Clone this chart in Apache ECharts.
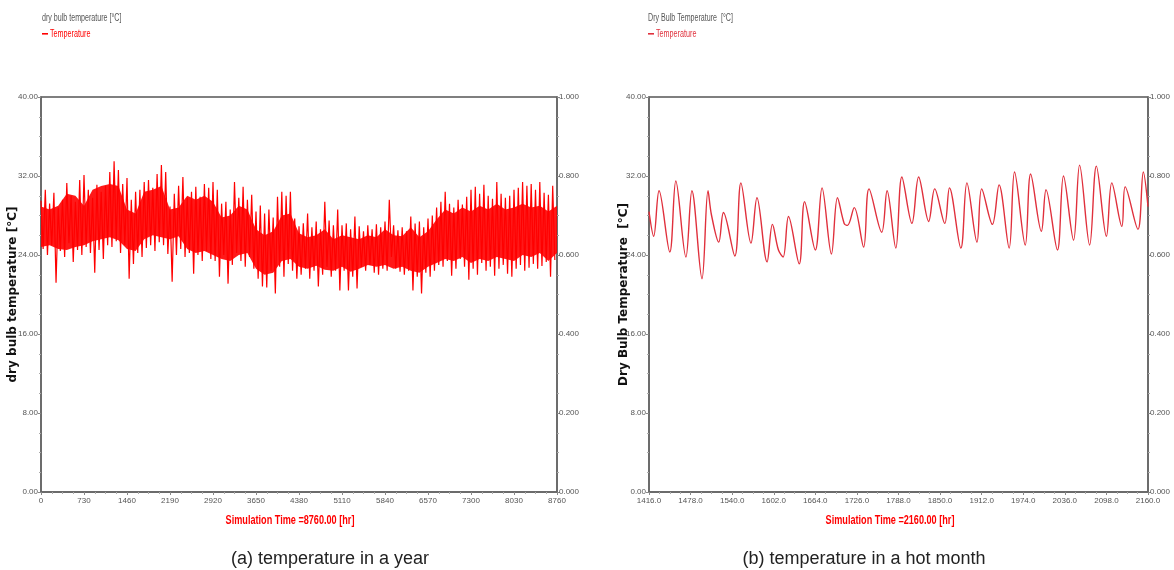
<!DOCTYPE html>
<html>
<head>
<meta charset="utf-8">
<script src="https://cdn.jsdelivr.net/npm/echarts@6/dist/echarts.min.js"></script>
<style>
  html, body { margin: 0; background: #fff; }
  #chart { width: 1174px; height: 570px; }
</style>
</head>
<body>
<div id="chart"></div>
<script>
const yearStep = 73
const yearHi = [
  29.5, 30.6, 29.2, 30.3, 28.8, 29.6, 31.3, 30.0, 29.4, 31.6,
  32.1, 30.6, 29.8, 31.1, 30.4, 31.0, 32.4, 33.5, 32.6, 31.2,
  31.8, 29.6, 30.4, 30.6, 31.4, 31.6, 30.8, 32.2, 33.1, 32.4,
  28.9, 30.2, 31.0, 31.9, 29.8, 30.4, 30.9, 29.9, 31.2, 30.8,
  31.4, 30.6, 29.2, 29.4, 28.6, 31.4, 29.8, 30.9, 29.6, 30.1,
  28.4, 29.0, 28.2, 28.6, 27.8, 29.9, 30.4, 30.0, 30.4, 27.7,
  26.9, 27.2, 28.2, 26.8, 27.4, 26.6, 29.4, 27.5, 27.0, 28.6,
  27.0, 27.2, 26.6, 27.9, 26.9, 26.4, 27.0, 26.6, 27.1, 26.8,
  27.4, 29.6, 27.0, 26.5, 26.8, 26.4, 27.9, 27.2, 27.4, 26.8,
  27.7, 28.0, 28.8, 29.4, 30.4, 29.2, 28.8, 29.6, 29.1, 29.9,
  30.6, 30.9, 30.2, 31.1, 30.0, 29.7, 31.4, 30.2, 29.8, 30.0,
  30.6, 30.8, 31.4, 31.0, 31.2, 30.6, 31.4, 30.3, 30.1, 31.0
]
const yearLo = [
  24.6, 24.0, 25.0, 21.2, 24.4, 23.8, 25.2, 23.3, 24.5, 24.0,
  24.8, 24.2, 22.2, 24.5, 23.6, 25.0, 24.8, 25.4, 24.2, 25.0,
  21.6, 23.1, 24.2, 23.8, 24.7, 25.0, 24.4, 25.3, 25.0, 24.1,
  21.3, 24.0, 24.6, 23.8, 24.2, 22.1, 24.0, 23.4, 24.4, 23.6,
  23.4, 21.8, 24.0, 21.1, 23.0, 24.2, 23.4, 22.8, 23.8, 22.6,
  21.6, 20.8, 20.7, 22.4, 20.1, 22.8, 21.8, 23.1, 22.4, 21.6,
  22.0, 22.6, 21.6, 22.4, 20.8, 22.0, 22.8, 21.8, 22.4, 20.4,
  22.4, 20.4, 21.8, 20.6, 22.8, 22.4, 23.0, 22.2, 22.0, 22.6,
  22.4, 23.8, 22.6, 22.3, 22.0, 22.4, 20.4, 21.8, 20.1, 22.2,
  21.8, 22.4, 23.0, 22.8, 23.4, 21.9, 22.6, 23.6, 22.8, 21.5,
  22.6, 22.0, 23.2, 22.4, 22.8, 21.9, 22.6, 23.0, 22.1, 21.8,
  22.6, 23.0, 22.4, 22.7, 23.1, 22.6, 22.9, 23.3, 21.8, 23.5
]
// the solid core of the year trace, every 146 hr
const coreStep = 146
const coreHi = [
  28.9, 28.6, 29.0, 30.2, 30.0, 29.0, 30.6, 31.0, 31.2, 31.0,
  28.6, 28.2, 30.4, 30.6, 31.0, 28.6, 28.8, 30.0, 29.6, 30.0,
  29.4, 27.8, 28.0, 29.0, 28.6, 26.6, 26.0, 26.4, 28.0, 28.2,
  26.2, 25.8, 26.0, 26.6, 25.6, 26.0, 25.8, 25.6, 26.0, 25.8,
  26.6, 26.0, 25.9, 26.8, 25.8, 26.4, 27.6, 28.6, 28.2, 28.8,
  28.4, 29.0, 28.6, 29.2, 28.6, 28.8, 29.2, 28.8, 29.0, 28.4,
  29.0
]
const coreLo = [
  24.8, 25.0, 24.6, 24.5, 24.8, 25.0, 25.4, 25.6, 25.8, 25.5,
  24.6, 24.4, 25.6, 26.0, 25.8, 25.6, 25.9, 24.6, 24.2, 24.4,
  24.0, 23.6, 23.4, 24.0, 24.2, 22.6, 22.0, 22.2, 23.4, 23.6,
  22.8, 22.6, 22.9, 22.5, 22.4, 22.8, 22.3, 22.6, 23.0, 22.8,
  23.0, 22.6, 22.8, 22.4, 22.2, 22.8, 23.2, 23.6, 23.4, 23.8,
  23.2, 23.6, 23.4, 23.8, 23.6, 23.4, 24.0, 23.8, 24.2, 23.4,
  24.2
]

// (b) hot month, daily turning points
const monthHours = [
  1416, 1423, 1431, 1447, 1456, 1471, 1480, 1495, 1504, 1509,
  1520, 1527, 1544, 1553, 1568, 1577, 1592, 1600, 1609, 1616,
  1624, 1640, 1648, 1664, 1674, 1688, 1697, 1707, 1712, 1722,
  1736, 1744, 1763, 1771, 1784, 1793, 1808, 1818, 1833, 1842,
  1857, 1864, 1881, 1890, 1905, 1912, 1928, 1938, 1953, 1961,
  1977, 1985, 2001, 2008, 2025, 2034, 2049, 2058, 2073, 2083,
  2098, 2106, 2121, 2126, 2145, 2153, 2160
]
const monthTemps = [
  28.4, 25.9, 30.5, 24.3, 31.5, 23.8, 30.5, 21.6, 30.5, 28.1,
  25.3, 28.3, 23.9, 31.3, 25.2, 29.8, 23.3, 27.1, 24.5, 23.8,
  27.9, 23.1, 29.4, 24.5, 30.8, 24.1, 29.8, 27.2, 27.0, 28.8,
  24.8, 30.7, 26.3, 30.5, 24.7, 31.9, 27.2, 31.9, 27.4, 30.7,
  27.2, 30.8, 24.7, 31.3, 25.3, 30.7, 27.1, 31.1, 24.7, 32.4,
  25.0, 32.2, 26.4, 30.6, 24.5, 32.0, 25.5, 33.1, 25.0, 33.0,
  25.9, 31.3, 26.9, 30.9, 26.6, 32.4, 28.9
]

const yearData = []
for (let i = 0; i < yearHi.length; i++) {
  yearData.push([i * yearStep, yearHi[i]])
  yearData.push([i * yearStep + yearStep / 2, yearLo[i]])
}
const coreData = coreHi.map((v, i) => [i * coreStep, v, coreLo[i]])
const monthData = monthHours.map((h, i) => [h, monthTemps[i]])

const sans = "'Liberation Sans', Arial, sans-serif"
const tickLabel = { color: '#555', fontSize: 8, fontFamily: sans }
const axisLine = { show: true, lineStyle: { color: '#666', width: 1.5 } }
const minorTick = { show: true, splitNumber: 4, length: 2, lineStyle: { color: '#aaa' } }
const axisTick = { show: true, length: 3, lineStyle: { color: '#888' } }

function xAxisFor(idx, min, max, interval, digits) {
  return {
    type: 'value', gridIndex: idx, min: min, max: max, interval: interval,
    axisLine: axisLine, axisTick: axisTick, minorTick: minorTick,
    splitLine: { show: false },
    axisLabel: Object.assign({ margin: 5, formatter: v => v.toFixed(digits) }, tickLabel)
  }
}
function leftAxisFor(idx, name, gap) {
  return {
    type: 'value', gridIndex: idx, min: 0, max: 40, interval: 8,
    axisLine: axisLine, axisTick: axisTick, minorTick: minorTick,
    splitLine: { show: false },
    axisLabel: Object.assign({ margin: 3, formatter: v => v.toFixed(2) }, tickLabel),
    name: name, nameLocation: 'middle', nameGap: gap, nameRotate: 90, nameMoveOverlap: false,
    nameTextStyle: { color: '#111', fontWeight: 'bold', fontSize: 12, fontFamily: "'DejaVu Sans', sans-serif" }
  }
}
function rightAxisFor(idx) {
  return {
    type: 'value', gridIndex: idx, position: 'right', min: 0, max: 1, interval: 0.2,
    axisLine: axisLine, axisTick: axisTick, minorTick: minorTick,
    splitLine: { show: false },
    axisLabel: Object.assign({ margin: 2, formatter: v => v.toFixed(3) }, tickLabel)
  }
}
// narrow text, like the simulation tool's condensed font
function narrowText(x, y, text, color, font, align, sx) {
  return {
    type: 'text', x: x, y: y, scaleX: sx, silent: true,
    style: { text: text, fill: color, font: font, textAlign: align, textVerticalAlign: 'middle' }
  }
}
function legendLine(x, y, color) {
  return { type: 'rect', silent: true, shape: { x: x, y: y, width: 6, height: 1.6 }, style: { fill: color } }
}

const chart = echarts.init(document.getElementById('chart'))
chart.setOption({
  animation: false,
  title: [
    { text: '(a) temperature in a year', left: 325, top: 545, textAlign: 'center',
      textStyle: { color: '#222', fontSize: 18, fontWeight: 'normal', fontFamily: sans } },
    { text: '(b) temperature in a hot month', left: 859, top: 545, textAlign: 'center',
      textStyle: { color: '#222', fontSize: 18, fontWeight: 'normal', fontFamily: sans } }
  ],
  graphic: [
    narrowText(42, 18, 'dry bulb temperature [°C]', '#555', '10px ' + sans, 'left', 0.71),
    legendLine(42, 33, '#f00'),
    narrowText(50, 34, 'Temperature', '#f00', '10px ' + sans, 'left', 0.72),
    narrowText(648, 18, 'Dry Bulb Temperature  [°C]', '#555', '10px ' + sans, 'left', 0.71),
    legendLine(648, 33, '#e0303c'),
    narrowText(656, 34, 'Temperature', '#e0303c', '10px ' + sans, 'left', 0.72),
    narrowText(290, 521, 'Simulation Time =8760.00 [hr]', '#f00', 'bold 12px ' + sans, 'center', 0.76),
    narrowText(890, 521, 'Simulation Time =2160.00 [hr]', '#f00', 'bold 12px ' + sans, 'center', 0.76)
  ],
  grid: [
    { left: 41, right: 617, top: 97, bottom: 78, outerBoundsMode: 'none', containLabel: false,
      show: true, borderColor: '#555', borderWidth: 1.5 },
    { left: 649, right: 26, top: 97, bottom: 78, outerBoundsMode: 'none', containLabel: false,
      show: true, borderColor: '#555', borderWidth: 1.5 }
  ],
  xAxis: [
    xAxisFor(0, 0, 8760, 730, 0),
    xAxisFor(1, 1416, 2160, 62, 1)
  ],
  yAxis: [
    leftAxisFor(0, 'dry bulb temperature [°C]', 22),
    rightAxisFor(0),
    leftAxisFor(1, 'Dry Bulb Temperature  [°C]', 19),
    rightAxisFor(1)
  ],
  series: [
    {
      // dense core of the yearly trace, one band between coreHi and coreLo
      name: 'core', type: 'custom', xAxisIndex: 0, yAxisIndex: 0, silent: true,
      data: coreData, encode: { x: 0, y: [1, 2] }, clip: true,
      renderItem: function (params, api) {
        if (params.dataIndex !== 0) return
        const top = coreData.map(d => api.coord([d[0], d[1]]))
        const bottom = coreData.map(d => api.coord([d[0], d[2]])).reverse()
        return {
          type: 'polygon',
          shape: { points: top.concat(bottom) },
          style: { fill: '#f00', opacity: 0.9 }
        }
      }
    },
    {
      name: 'Temperature', type: 'line', xAxisIndex: 0, yAxisIndex: 0,
      data: yearData, showSymbol: false,
      lineStyle: { color: '#f00', width: 1.2 }, itemStyle: { color: '#f00' }
    },
    {
      name: 'Temperature', type: 'line', xAxisIndex: 1, yAxisIndex: 2,
      data: monthData, showSymbol: false, smooth: 0.35,
      lineStyle: { color: '#e0303c', width: 1.4 }, itemStyle: { color: '#e0303c' }
    }
  ]
})
</script>
</body>
</html>
